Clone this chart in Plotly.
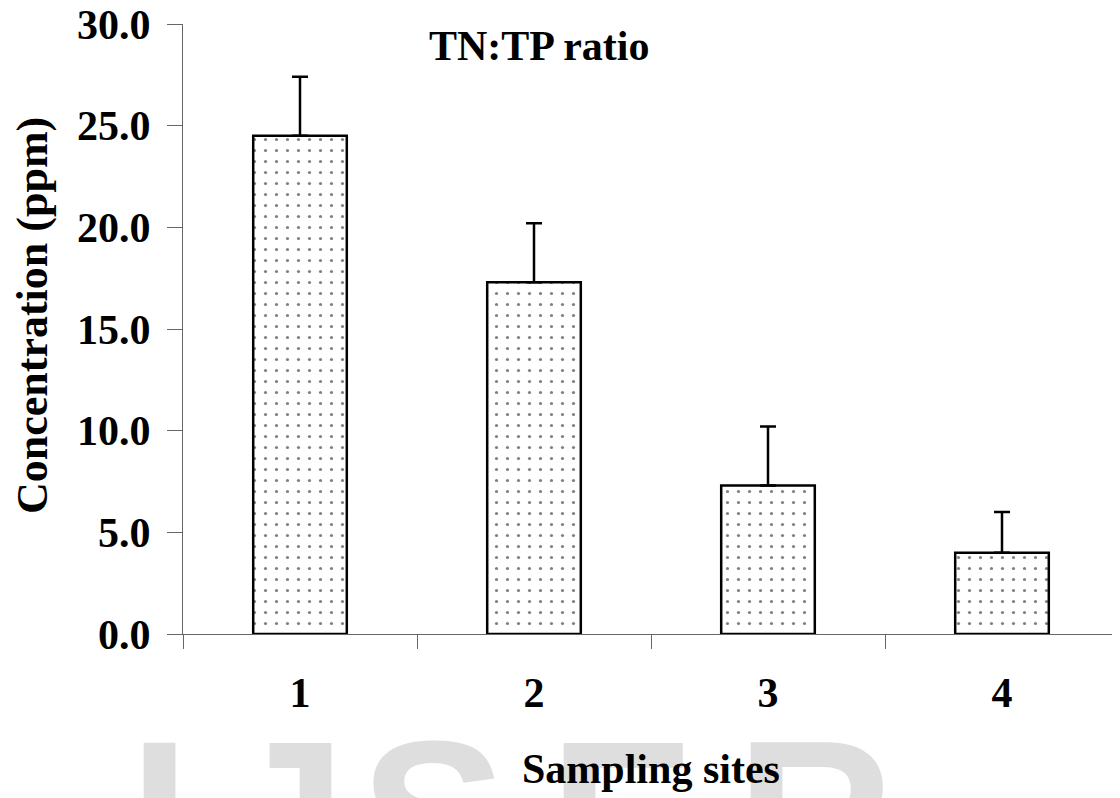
import plotly.graph_objects as go

sites = ["1", "2", "3", "4"]
ratio = [24.5, 17.3, 7.3, 4.0]
err_plus = [2.9, 2.9, 2.9, 2.0]
y_ticks = [0, 5, 10, 15, 20, 25, 30]
y_tick_labels = ["0.0", "5.0", "10.0", "15.0", "20.0", "25.0", "30.0"]
watermark_letters = ["I", "J", "S", "E", "R"]
watermark_x = [159, 285, 433, 622, 815]

OFF = 8  # default page body margin
W, H = 1120 - OFF, 798 - OFF
# plot area in page pixels: x 183..1119, y 24..634
L, T = 183 - OFF, 24 - OFF
R = W - (1119 - OFF)
B = H - (634 - OFF)
pw = W - L - R
ph = H - T - B

def px_x(x):
    return (x - OFF - L) / pw

def px_y(y):
    return (634 - y) / ph

SERIF = "Liberation Serif, Times New Roman, serif"
FS = 42

fig = go.Figure()
fig.add_trace(go.Bar(
    x=sites, y=ratio, width=0.4,
    marker=dict(color="white",
                line=dict(color="black", width=2.5),
                pattern=dict(shape=".", fgcolor="black", bgcolor="white",
                             size=11, solidity=0.065)),
    error_y=dict(type="data", symmetric=False, array=err_plus,
                 arrayminus=[0] * len(err_plus),
                 color="black", thickness=2.5, width=8),
    showlegend=False,
))

annotations = []
for ch, xx in zip(watermark_letters, watermark_x):
    annotations.append(dict(
        text="<b>" + ch + "</b>", xref="paper", yref="paper", x=px_x(xx), y=px_y(694),
        xanchor="center", yanchor="top", showarrow=False,
        font=dict(family="Liberation Sans, Arial, sans-serif", size=220, color="#dedede"),
    ))
annotations.append(dict(
    text="<b>TN:TP ratio</b>", xref="paper", yref="paper",
    x=px_x(539), y=px_y(71), xanchor="center", yanchor="bottom", showarrow=False,
    font=dict(family=SERIF, size=FS, color="black"),
))
annotations.append(dict(
    text="<b>Sampling sites</b>", xref="paper", yref="paper",
    x=0.5, y=px_y(794), xanchor="center", yanchor="bottom", showarrow=False,
    font=dict(family=SERIF, size=FS, color="black"),
))
annotations.append(dict(
    text="<b>Concentration (ppm)</b>", xref="paper", yref="paper",
    x=px_x(32), y=px_y(316), xanchor="center", yanchor="middle", showarrow=False,
    textangle=-90,
    font=dict(family=SERIF, size=44, color="black"),
))

fig.update_layout(
    width=W, height=H,
    margin=dict(l=L, r=R, t=T, b=B, pad=0, autoexpand=False),
    paper_bgcolor="white", plot_bgcolor="white",
    annotations=annotations,
    xaxis=dict(
        type="category", tickson="boundaries", ticks="outside", ticklen=14,
        tickwidth=1, tickcolor="#666", showline=True, linecolor="#666", linewidth=1,
        showgrid=False, zeroline=False, automargin=False,
        tickfont=dict(family=SERIF, size=FS, color="black", weight="bold"),
        ticklabelstandoff=22,
    ),
    yaxis=dict(
        range=[0, 30], tickvals=y_ticks, ticktext=y_tick_labels,
        ticks="outside", ticklen=15, tickwidth=1, tickcolor="#666",
        showline=True, linecolor="#666", linewidth=1,
        showgrid=False, zeroline=False, automargin=False,
        tickfont=dict(family=SERIF, size=FS, color="black", weight="bold"),
        ticklabelstandoff=8, ticklabeloverflow="allow",
    ),
)

fig.write_html("out.html")
